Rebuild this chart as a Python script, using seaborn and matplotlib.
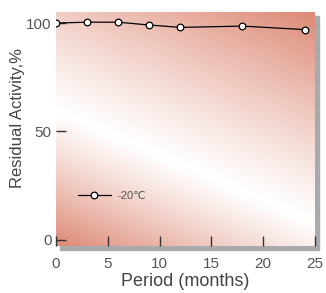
import numpy as np
import pandas as pd
import seaborn as sns
import matplotlib
matplotlib.use('Agg')
import matplotlib.pyplot as plt
from matplotlib.patches import Rectangle

# 데이터
months = [0, 3, 6, 9, 12, 18, 24]
activity = [100, 100.4, 100.4, 99.1, 98.0, 98.6, 97.0]
series_name = '-20℃'
xticks = [0, 5, 10, 15, 20, 25]
yticks = [0, 50, 100]

df = pd.DataFrame({'Period': months, 'Activity': activity, 'cond': series_name})

sns.set_style('white')
plt.rcParams['font.family'] = ['Liberation Sans', 'DejaVu Sans']
plt.rcParams['xtick.bottom'] = True
plt.rcParams['ytick.left'] = True
plt.rcParams['xtick.direction'] = 'in'
plt.rcParams['ytick.direction'] = 'in'

fig = plt.figure(figsize=(3.26, 2.93), dpi=100)
ax = fig.add_axes([56 / 326, 1 - 246 / 293, 259 / 326, 234 / 293])

# 그림자
fig.add_artist(Rectangle((60 / 326, 1 - 250 / 293), 259 / 326, 234 / 293,
                         transform=fig.transFigure, color='#a8aaae', zorder=-1))

# 배경 그라데이션
nx, ny = 300, 300
gx, gy = np.meshgrid(np.linspace(0, 1, nx), np.linspace(0, 1, ny))
d = gy - (0.58 - 0.48 * gx)
t = np.where(d > 0, d / 0.90, -d / 0.58)
t = np.clip(t, 0, 1) ** 1.15
base = np.array([221, 137, 117]) / 255
img = 1 - t[..., None] * (1 - base)
ax.imshow(img, extent=[0, 1, 0, 1], transform=ax.transAxes, origin='lower',
          aspect='auto', zorder=0)

sns.lineplot(data=df, x='Period', y='Activity', hue='cond', palette=['black'],
             marker='o', markersize=4.8, markerfacecolor='white',
             markeredgecolor='black', markeredgewidth=0.9, linewidth=0.9,
             ax=ax, zorder=3)

ax.set_xlim(0, 25)
ax.set_ylim(-2.8, 105.1)
ax.set_xticks(xticks)
ax.set_yticks(yticks)
for s in ax.spines.values():
    s.set_visible(False)
ax.tick_params(direction='in', length=7, width=1, color='#333333',
               labelcolor='#555555', labelsize=11)
ax.tick_params(axis='x', pad=8, bottom=True)
ax.tick_params(axis='y', pad=3, left=True)
ax.set_xlabel('Period (months)', fontsize=13, color='#444444', labelpad=1)
ax.set_ylabel('Residual Activity,%', fontsize=12, color='#444444')
ax.yaxis.set_label_coords(-0.12, 0.547)

leg = ax.legend(loc='center left', bbox_to_anchor=(0.045, 0.214), frameon=False,
                fontsize=8, handlelength=3.0, handletextpad=0.6, title=None)
for txt in leg.get_texts():
    txt.set_color('#555555')

fig.savefig('out.png', dpi=100)
